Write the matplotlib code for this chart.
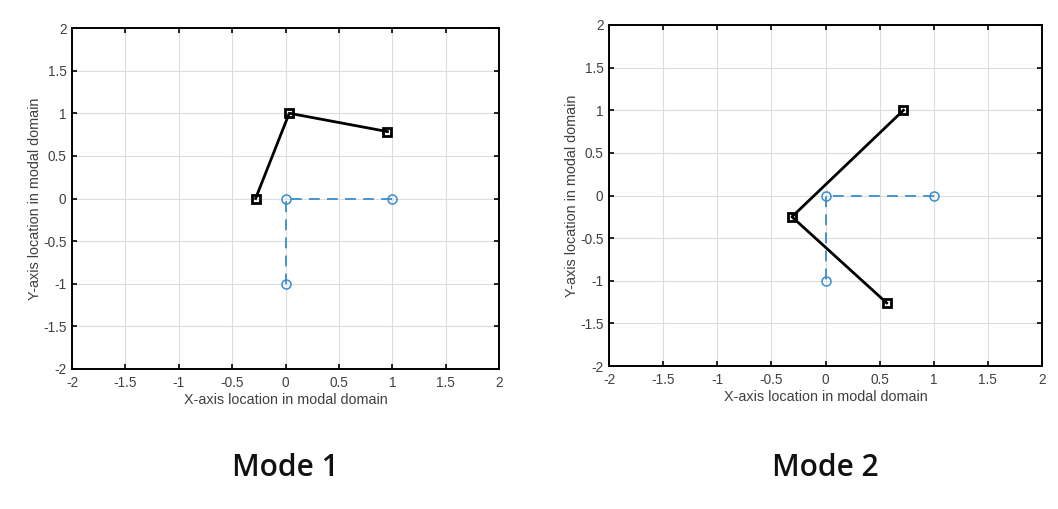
import numpy as np
import matplotlib
matplotlib.use('Agg')
import matplotlib.pyplot as plt

# Mode shapes (deformed) and reference (undeformed) geometry
mode1_x = [-0.28, 0.035, 0.955]
mode1_y = [0.0, 1.0, 0.785]
mode2_x = [0.72, -0.31, 0.565]
mode2_y = [1.0, -0.25, -1.26]
ref_x = [1, 0, 0]
ref_y = [0, 0, -1]

ticks = [-2, -1.5, -1, -0.5, 0, 0.5, 1, 1.5, 2]
tick_labels = ['-2', '-1.5', '-1', '-0.5', '0', '0.5', '1', '1.5', '2']
titles = ['Mode 1', 'Mode 2']

plt.rcParams['font.family'] = ['Liberation Sans', 'DejaVu Sans']

fig = plt.figure(figsize=(10.58, 5.09), dpi=100)
W, H = 1058, 509
boxes = [(72, 28, 499, 369), (609, 25, 1042, 366)]
modes = [(mode1_x, mode1_y), (mode2_x, mode2_y)]
title_x = [285, 825]
gray = '#404040'

for (l, t, r, b), (mx, my), title, tx in zip(boxes, modes, titles, title_x):
    ax = fig.add_axes([l / W, 1 - b / H, (r - l) / W, (b - t) / H])
    ax.plot(ref_x, ref_y, '--o', color='#3a8dcc', lw=1.3, ms=6.5,
            mfc='none', mew=1.1, dashes=(6, 4))
    ax.plot(mx, my, '-s', color='black', lw=2, ms=6, mfc='none', mew=2)
    ax.set_xlim(-2, 2)
    ax.set_ylim(-2, 2)
    ax.set_xticks(ticks)
    ax.set_xticklabels(tick_labels)
    ax.set_yticks(ticks)
    ax.set_yticklabels(tick_labels)
    ax.grid(True, color='#dcdcdc', lw=0.8)
    ax.set_axisbelow(True)
    ax.tick_params(direction='in', length=3.5, width=1.2, top=True, right=True,
                   labelsize=9.8, labelcolor=gray, pad=5)
    ax.tick_params(axis='y', pad=4)
    for s in ax.spines.values():
        s.set_linewidth(1.4)
    ax.set_xlabel('X-axis location in modal domain', fontsize=10.4, color=gray, labelpad=2)
    ax.set_ylabel('Y-axis location in modal domain', fontsize=10.4, color=gray, labelpad=1)
    fig.text(tx / W, 1 - 468 / H, title, ha='center', va='center',
             fontsize=21.5, fontweight='semibold', family=['Open Sans', 'DejaVu Sans'],
             color='#111111')

fig.savefig('out.png', dpi=100)
